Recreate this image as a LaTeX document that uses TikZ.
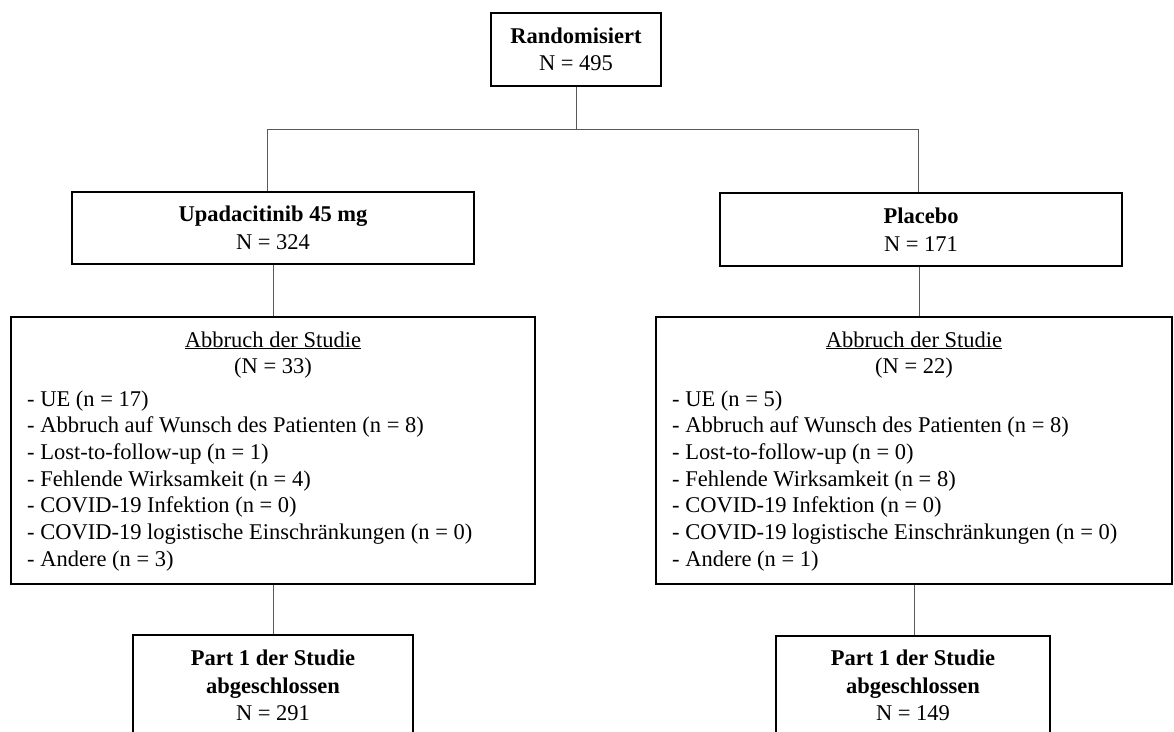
\documentclass[tikz,border=0pt]{standalone}
\usepackage{fontspec}
\setmainfont{Liberation Serif}
\begin{document}
\begin{tikzpicture}[x=1pt,y=-1pt,
  every node/.style={font=\fontsize{22.5}{27.5}\selectfont, inner sep=0pt},
  box/.style={draw=black, line width=2pt, align=center, fill=white},
  conn/.style={draw=black!65, line width=1pt},
  txt/.style={anchor=base west},
  head/.style={anchor=base}]
\useasboundingbox (0,0) rectangle (1174,731);
\clip (0,0) rectangle (1174,731);
\fill[white] (0,0) rectangle (1174,731);

% boxes
\node[box, minimum width=170pt, minimum height=73pt] (rand) at (576,49.5) {\textbf{Randomisiert}\\N = 495};
\node[box, minimum width=402pt, minimum height=72pt] (upa) at (273,228) {\textbf{Upadacitinib 45 mg}\\N = 324};
\node[box, minimum width=402pt, minimum height=73pt] (plac) at (921,229.5) {\textbf{Placebo}\\N = 171};
\node[box, minimum width=524pt, minimum height=267pt] (abl) at (273,450.5) {};
\node[box, minimum width=516pt, minimum height=267pt] (abr) at (914,450.5) {};
\node[box, minimum width=280pt, minimum height=100pt, anchor=north] (donel) at (273,634) {};
\node[box, minimum width=274pt, minimum height=100pt, anchor=north] (doner) at (913,635) {};

% connectors
\coordinate (jl) at (267,129);
\coordinate (jr) at (918,129);
\draw[conn] (rand.south) -- (rand.south |- jl);
\draw[conn] (jl) -- (jr);
\draw[conn] (jl) -- (jl |- upa.north);
\draw[conn] (jr) -- (jr |- plac.north);
\draw[conn] (upa.south) -- (upa.south |- abl.north);
\draw[conn] (plac.south -| 919,0) -- (abr.north -| 919,0);
\draw[conn] (abl.south) -- (abl.south |- donel.north);
\draw[conn] (abr.south) -- (abr.south |- doner.north);

% left dropout list
\node[head] (alh1) at (273,347) {\underline{Abbruch der Studie}};
\node[head] (alh2) at (273,373.5) {(N = 33)};
\node[txt] (al1) at (27,406) {- UE (n = 17)};
\node[txt] (al2) at (27,432.7) {- Abbruch auf Wunsch des Patienten (n = 8)};
\node[txt] (al3) at (27,459.4) {- Lost-to-follow-up (n = 1)};
\node[txt] (al4) at (27,486.1) {- Fehlende Wirksamkeit (n = 4)};
\node[txt] (al5) at (27,512.8) {- COVID-19 Infektion (n = 0)};
\node[txt] (al6) at (27,539.5) {- COVID-19 logistische Einschränkungen (n = 0)};
\node[txt] (al7) at (27,566.2) {- Andere (n = 3)};

% right dropout list
\node[head] (arh1) at (914,347) {\underline{Abbruch der Studie}};
\node[head] (arh2) at (914,373.5) {(N = 22)};
\node[txt] (ar1) at (672,406) {- UE (n = 5)};
\node[txt] (ar2) at (672,432.7) {- Abbruch auf Wunsch des Patienten (n = 8)};
\node[txt] (ar3) at (672,459.4) {- Lost-to-follow-up (n = 0)};
\node[txt] (ar4) at (672,486.1) {- Fehlende Wirksamkeit (n = 8)};
\node[txt] (ar5) at (672,512.8) {- COVID-19 Infektion (n = 0)};
\node[txt] (ar6) at (672,539.5) {- COVID-19 logistische Einschränkungen (n = 0)};
\node[txt] (ar7) at (672,566.2) {- Andere (n = 1)};

% completed boxes text
\node[head] (dl1) at (273,665) {\textbf{Part 1 der Studie}};
\node[head] (dl2) at (273,693) {\textbf{abgeschlossen}};
\node[head] (dl3) at (273,720) {N = 291};
\node[head] (dr1) at (913,665) {\textbf{Part 1 der Studie}};
\node[head] (dr2) at (913,693) {\textbf{abgeschlossen}};
\node[head] (dr3) at (913,720) {N = 149};
\end{tikzpicture}
\end{document}
